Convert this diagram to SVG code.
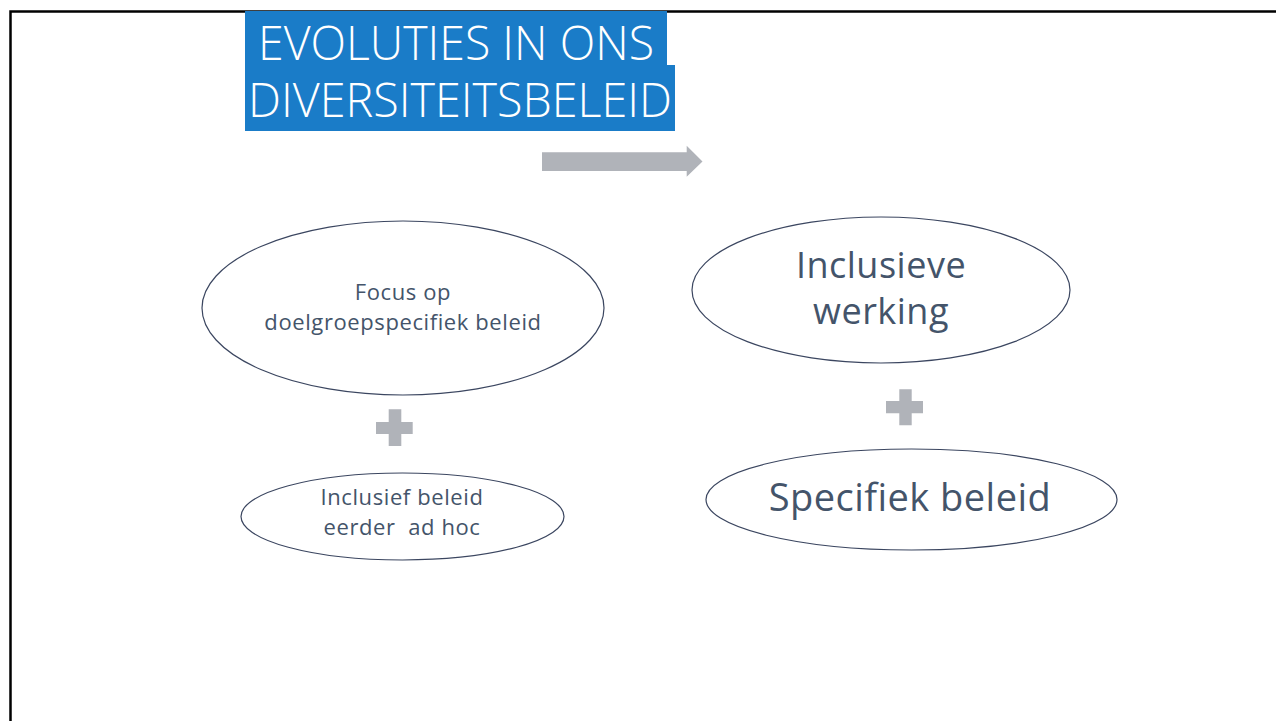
<svg xmlns="http://www.w3.org/2000/svg" width="1276" height="721" viewBox="0 0 1276 721">
<style>
.ell{fill:#ffffff;stroke:#3b4660;stroke-width:1.2}
.t{font-family:"Open Sans","Liberation Sans",Arial,sans-serif;fill:#44546a;text-anchor:middle}
.s{font-size:22px;letter-spacing:0.6px}
.grey{fill:#b0b3b9}
.title{font-family:"Open Sans","Liberation Sans",sans-serif;font-weight:300;fill:#ffffff;font-size:47px}
</style>
<rect x="0" y="0" width="1276" height="721" fill="#ffffff"/>
<path d="M10.5,721 V11.5 H1276" fill="none" stroke="#000000" stroke-width="2.5"/>
<g id="title">
<rect x="245" y="11" width="422" height="55" fill="#1a7cc8"/>
<rect x="245" y="65" width="430" height="66" fill="#1a7cc8"/>
<text class="title" x="258" y="60" textLength="396" lengthAdjust="spacingAndGlyphs">EVOLUTIES IN ONS</text>
<text class="title" x="248" y="117" textLength="424" lengthAdjust="spacingAndGlyphs">DIVERSITEITSBELEID</text>
</g>
<g id="connectors">
<polygon class="grey" points="542,152.3 686.7,152.3 686.7,145.7 702.5,161.5 686.7,176.7 686.7,171 542,171"/>
<path class="grey" d="M388.7,409.3 H401.3 V422 H412.7 V434 H401.3 V446 H388.7 V434 H376 V422 H388.7 Z"/>
<path class="grey" d="M899.3,389.3 H911.7 V401 H923 V413.3 H911.7 V425.3 H899.3 V413.3 H886 V401 H899.3 Z"/>
</g>
<g id="node-focus">
<ellipse class="ell" cx="403" cy="308" rx="201" ry="87"/>
<text class="t s" x="403" y="300">Focus op</text>
<text class="t s" x="403" y="330">doelgroepspecifiek beleid</text>
</g>
<g id="node-inclusieve">
<ellipse class="ell" cx="881" cy="290" rx="189" ry="73"/>
<text class="t" x="881" y="278" font-size="36" letter-spacing="0.5">Inclusieve</text>
<text class="t" x="881" y="324" font-size="36" letter-spacing="0.5">werking</text>
</g>
<g id="node-inclusief">
<ellipse class="ell" cx="402.5" cy="516.5" rx="161.5" ry="43.5"/>
<text class="t s" x="402" y="505">Inclusief beleid</text>
<text class="t s" x="402" y="535" xml:space="preserve">eerder  ad hoc</text>
</g>
<g id="node-specifiek">
<ellipse class="ell" cx="911.5" cy="499.5" rx="205.5" ry="50.5"/>
<text class="t" x="910" y="511" font-size="38" letter-spacing="0.45">Specifiek beleid</text>
</g>
</svg>
